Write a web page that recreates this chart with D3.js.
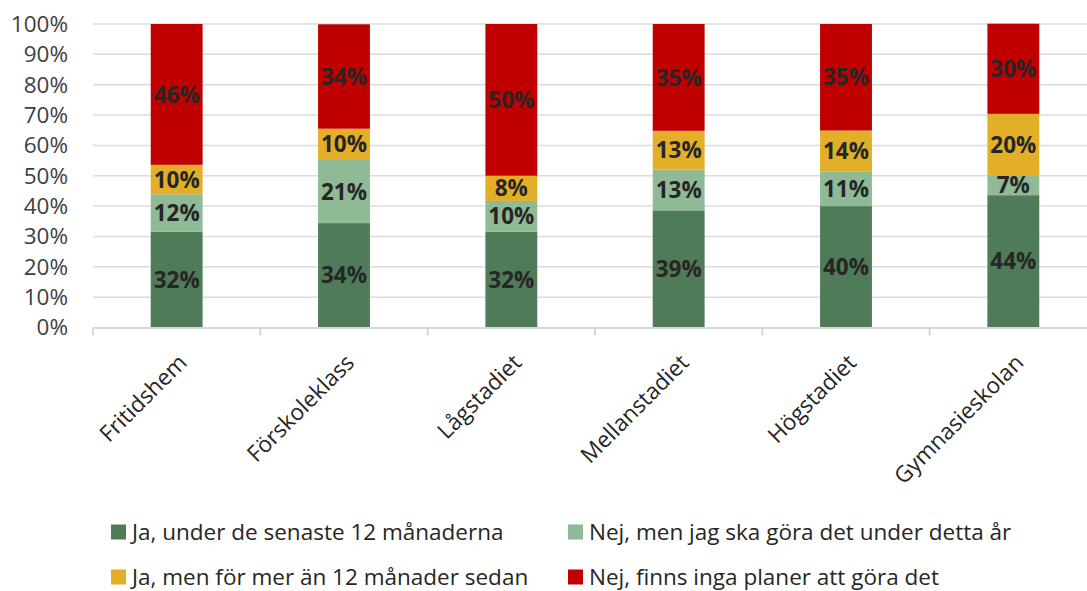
<!DOCTYPE html>
<html>
<head>
<meta charset="utf-8">
<script src="https://cdn.jsdelivr.net/npm/d3@7"></script>
<style>
  body { margin: 0; background: #fff; }
  svg { display: block; font-family: "Open Sans", "Noto Sans", sans-serif; }
</style>
</head>
<body>
<div id="chart"></div>
<script>
const categories = ['Fritidshem', 'Förskoleklass', 'Lågstadiet', 'Mellanstadiet', 'Högstadiet', 'Gymnasieskolan'];
const seriesNames = [
  'Ja, under de senaste 12 månaderna',
  'Nej, men jag ska göra det under detta år',
  'Ja, men för mer än 12 månader sedan',
  'Nej, finns inga planer att göra det'
];
const jaSenaste = [31.6, 34.4, 31.6, 38.6, 40.0, 43.6];
const nejDettaAr = [12.3, 20.8, 10.1, 13.4, 11.3, 6.6];
const jaMerAn12 = [9.7, 10.3, 8.3, 12.8, 13.6, 20.2];
const nejInga = [46.4, 34.4, 50.0, 35.2, 35.1, 29.7];
const yTicks = [0, 10, 20, 30, 40, 50, 60, 70, 80, 90, 100];
const colors = ['#507b58', '#8fba95', '#e3ae28', '#c00000'];

const width = 1087, height = 591;
const plotLeft = 93, plotRight = 1097, plotTop = 24, plotBottom = 327.5;
const fontSize = 22.5;

const rows = categories.map((c, i) => ({
  cat: c, s0: jaSenaste[i], s1: nejDettaAr[i], s2: jaMerAn12[i], s3: nejInga[i]
}));
const keys = ['s0', 's1', 's2', 's3'];
const stacked = d3.stack().keys(keys)(rows);

const svg = d3.select('#chart').append('svg')
  .attr('width', width).attr('height', height);

const x = d3.scaleBand().domain(categories).range([plotLeft, plotRight])
  .paddingInner(0.69).paddingOuter(0.345);
const y = d3.scaleLinear().domain([0, 100]).range([plotBottom, plotTop]);
const step = x.step();

// grid
svg.append('g').selectAll('line').data(yTicks.filter(d => d > 0)).join('line')
  .attr('x1', plotLeft).attr('x2', width)
  .attr('y1', d => y(d)).attr('y2', d => y(d))
  .attr('stroke', '#d9dedd').attr('stroke-width', 1.5);

// y labels
svg.append('g').selectAll('text').data(yTicks).join('text')
  .attr('x', 68).attr('y', d => y(d)).attr('dy', '0.35em')
  .attr('text-anchor', 'end').attr('font-size', fontSize).attr('fill', '#404040')
  .text(d => d + '%');

// bars
const layer = svg.append('g').selectAll('g').data(stacked).join('g')
  .attr('fill', (d, i) => colors[i]);
layer.selectAll('rect').data(d => d).join('rect')
  .attr('x', d => x(d.data.cat)).attr('width', x.bandwidth())
  .attr('y', d => y(d[1])).attr('height', d => y(d[0]) - y(d[1]));

// data labels
const fmt = v => Math.round(v) + '%';
svg.append('g').selectAll('g').data(stacked).join('g')
  .selectAll('text').data(d => d.map(p => ({ p, key: d.key }))).join('text')
  .attr('x', d => x(d.p.data.cat) + x.bandwidth() / 2)
  .attr('y', d => y((d.p[0] + d.p[1]) / 2)).attr('dy', '0.36em')
  .attr('text-anchor', 'middle').attr('font-size', fontSize).attr('font-weight', 'bold')
  .attr('fill', '#262626')
  .text(d => fmt(d.p.data[d.key]));

// x axis
svg.append('line').attr('x1', plotLeft).attr('x2', width)
  .attr('y1', plotBottom + 0.5).attr('y2', plotBottom + 0.5)
  .attr('stroke', '#d4d9d9').attr('stroke-width', 2);
svg.append('g').selectAll('line').data(categories).join('line')
  .attr('x1', d => x(d) + x.bandwidth() / 2 - step / 2)
  .attr('x2', d => x(d) + x.bandwidth() / 2 - step / 2)
  .attr('y1', plotBottom).attr('y2', plotBottom + 8)
  .attr('stroke', '#d4d9d9').attr('stroke-width', 2);

svg.append('g').selectAll('text').data(categories).join('text')
  .attr('transform', d => `translate(${x(d) + x.bandwidth() / 2 + 6},${plotBottom + 31}) rotate(-45)`)
  .attr('text-anchor', 'end').attr('dy', '0.35em')
  .attr('font-size', fontSize).attr('fill', '#262626')
  .text(d => d);

// legend
const legendPos = [[111, 532], [568, 532], [111, 577], [568, 577]];
const leg = svg.append('g').selectAll('g').data(seriesNames).join('g')
  .attr('transform', (d, i) => `translate(${legendPos[i][0]},${legendPos[i][1]})`);
leg.append('rect').attr('x', 0).attr('y', -7.5).attr('width', 15).attr('height', 15)
  .attr('fill', (d, i) => colors[i]);
leg.append('text').attr('x', 21).attr('dy', '0.35em')
  .attr('font-size', fontSize).attr('fill', '#262626').text(d => d);
</script>
</body>
</html>
